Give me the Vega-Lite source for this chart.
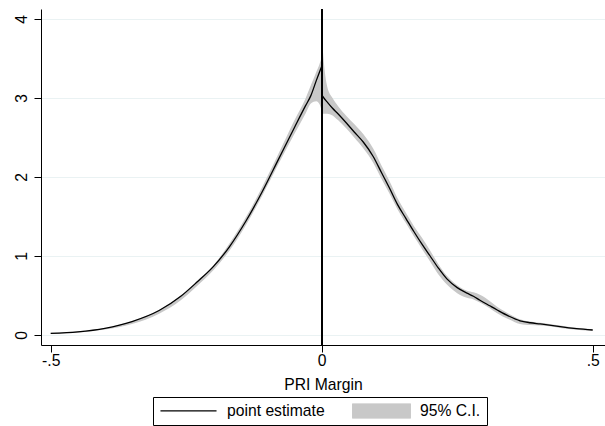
{
  "$schema": "https://vega.github.io/schema/vega-lite/v6.json",
  "width": 564,
  "height": 336,
  "autosize": {"type": "none"},
  "padding": {"left": 41, "top": 9, "right": 0, "bottom": 81},
  "background": "white",
  "config": {
    "font": "Liberation Sans",
    "view": {"stroke": null},
    "axis": {
      "domainColor": "black",
      "tickColor": "black",
      "labelColor": "black",
      "titleColor": "black",
      "labelFontSize": 15.7,
      "titleFontSize": 15.7,
      "titleFontWeight": "normal",
      "tickSize": 7,
      "domainWidth": 1,
      "tickWidth": 1
    }
  },
  "data": {
    "values": [
      {"side": "L", "x": -0.5, "est": 0.02, "lo": 0.012, "hi": 0.028},
      {"side": "L", "x": -0.45, "est": 0.04, "lo": 0.03, "hi": 0.048},
      {"side": "L", "x": -0.4, "est": 0.085, "lo": 0.07, "hi": 0.09},
      {"side": "L", "x": -0.35, "est": 0.17, "lo": 0.14, "hi": 0.175},
      {"side": "L", "x": -0.3, "est": 0.31, "lo": 0.27, "hi": 0.315},
      {"side": "L", "x": -0.26, "est": 0.49, "lo": 0.44, "hi": 0.5},
      {"side": "L", "x": -0.23, "est": 0.67, "lo": 0.62, "hi": 0.685},
      {"side": "L", "x": -0.2, "est": 0.865, "lo": 0.82, "hi": 0.88},
      {"side": "L", "x": -0.17, "est": 1.12, "lo": 1.07, "hi": 1.16},
      {"side": "L", "x": -0.14, "est": 1.44, "lo": 1.39, "hi": 1.49},
      {"side": "L", "x": -0.11, "est": 1.81, "lo": 1.76, "hi": 1.87},
      {"side": "L", "x": -0.08, "est": 2.22, "lo": 2.16, "hi": 2.29},
      {"side": "L", "x": -0.05, "est": 2.63, "lo": 2.55, "hi": 2.72},
      {"side": "L", "x": -0.03, "est": 2.9, "lo": 2.8, "hi": 2.99},
      {"side": "L", "x": -0.02, "est": 3.03, "lo": 2.93, "hi": 3.16},
      {"side": "L", "x": -0.01, "est": 3.22, "lo": 2.96, "hi": 3.33},
      {"side": "L", "x": -0.004, "est": 3.33, "lo": 2.92, "hi": 3.43},
      {"side": "L", "x": 0.0, "est": 3.4, "lo": 2.84, "hi": 3.52},
      {"side": "R", "x": 0.0, "est": 3.04, "lo": 2.8, "hi": 3.82},
      {"side": "R", "x": 0.004, "est": 3.0, "lo": 2.8, "hi": 3.45},
      {"side": "R", "x": 0.01, "est": 2.95, "lo": 2.8, "hi": 3.15},
      {"side": "R", "x": 0.02, "est": 2.87, "lo": 2.78, "hi": 3.0},
      {"side": "R", "x": 0.03, "est": 2.8, "lo": 2.72, "hi": 2.9},
      {"side": "R", "x": 0.046, "est": 2.68, "lo": 2.61, "hi": 2.77},
      {"side": "R", "x": 0.06, "est": 2.57, "lo": 2.5, "hi": 2.67},
      {"side": "R", "x": 0.077, "est": 2.44, "lo": 2.36, "hi": 2.54},
      {"side": "R", "x": 0.095, "est": 2.26, "lo": 2.18, "hi": 2.36},
      {"side": "R", "x": 0.11, "est": 2.06, "lo": 1.98, "hi": 2.15},
      {"side": "R", "x": 0.125, "est": 1.86, "lo": 1.79, "hi": 1.95},
      {"side": "R", "x": 0.14, "est": 1.65, "lo": 1.59, "hi": 1.73},
      {"side": "R", "x": 0.155, "est": 1.48, "lo": 1.42, "hi": 1.55},
      {"side": "R", "x": 0.17, "est": 1.31, "lo": 1.25, "hi": 1.38},
      {"side": "R", "x": 0.185, "est": 1.15, "lo": 1.09, "hi": 1.23},
      {"side": "R", "x": 0.2, "est": 1.0, "lo": 0.93, "hi": 1.07},
      {"side": "R", "x": 0.215, "est": 0.85, "lo": 0.77, "hi": 0.9},
      {"side": "R", "x": 0.231, "est": 0.71, "lo": 0.64, "hi": 0.75},
      {"side": "R", "x": 0.25, "est": 0.6, "lo": 0.53, "hi": 0.63},
      {"side": "R", "x": 0.268, "est": 0.53, "lo": 0.47, "hi": 0.56},
      {"side": "R", "x": 0.28, "est": 0.49, "lo": 0.45, "hi": 0.54},
      {"side": "R", "x": 0.292, "est": 0.44, "lo": 0.41, "hi": 0.51},
      {"side": "R", "x": 0.31, "est": 0.37, "lo": 0.34, "hi": 0.43},
      {"side": "R", "x": 0.323, "est": 0.32, "lo": 0.28, "hi": 0.36},
      {"side": "R", "x": 0.345, "est": 0.24, "lo": 0.2, "hi": 0.27},
      {"side": "R", "x": 0.366, "est": 0.18, "lo": 0.14, "hi": 0.2},
      {"side": "R", "x": 0.385, "est": 0.155, "lo": 0.125, "hi": 0.17},
      {"side": "R", "x": 0.403, "est": 0.14, "lo": 0.12, "hi": 0.155},
      {"side": "R", "x": 0.42, "est": 0.125, "lo": 0.11, "hi": 0.14},
      {"side": "R", "x": 0.44, "est": 0.105, "lo": 0.09, "hi": 0.12},
      {"side": "R", "x": 0.47, "est": 0.08, "lo": 0.068, "hi": 0.092},
      {"side": "R", "x": 0.5, "est": 0.063, "lo": 0.053, "hi": 0.072}
    ]
  },
  "encoding": {
    "x": {
      "field": "x",
      "type": "quantitative",
      "scale": {"domain": [-0.5179, 0.5227], "nice": false, "zero": false},
      "axis": {
        "title": "PRI Margin",
        "values": [-0.5, 0, 0.5],
        "labelExpr": "datum.value < 0 ? '-.5' : (datum.value > 0 ? '.5' : '0')",
        "grid": false,
        "labelPadding": 1,
        "titlePadding": 10
      }
    }
  },
  "layer": [
    {
      "mark": {"type": "area", "interpolate": "monotone", "opacity": 1},
      "encoding": {
        "y": {
          "field": "lo",
          "type": "quantitative",
          "scale": {"domain": [-0.1266, 4.1266], "nice": false, "zero": false},
          "axis": {
            "title": null,
            "values": [0, 1, 2, 3, 4],
            "format": "d",
            "grid": true,
            "gridColor": "#eaf2f3",
            "gridWidth": 1,
            "labelAngle": -90,
            "labelAlign": "center",
            "labelBaseline": "alphabetic",
            "labelPadding": 8
          }
        },
        "y2": {"field": "hi"},
        "detail": {"field": "side"},
        "color": {
          "datum": "95% C.I.",
          "type": "nominal",
          "scale": {"domain": ["point estimate", "95% C.I."], "range": ["black", "#c8c8c8"]},
          "legend": {
            "title": null,
            "orient": "none",
            "legendX": 112,
            "legendY": 388,
            "direction": "horizontal",
            "strokeColor": "black",
            "fillColor": "white",
            "padding": 6,
            "labelFontSize": 15.7,
            "labelColor": "black",
            "labelOffset": 9,
            "columnPadding": 27,
            "symbolSize": 3340,
            "symbolType": {"expr": "datum.value === 'point estimate' ? 'M-0.97,0H0.97' : 'M-1,-0.26H1V0.26H-1Z'"},
            "symbolStrokeColor": {"expr": "datum.value === 'point estimate' ? 'black' : '#bebebe'"},
            "symbolStrokeWidth": 1.1,
            "clipHeight": 15,
            "labelLimit": 300
          }
        }
      }
    },
    {
      "mark": {"type": "line", "interpolate": "monotone", "strokeWidth": 1.3},
      "encoding": {
        "y": {"field": "est", "type": "quantitative"},
        "detail": {"field": "side"},
        "color": {"datum": "point estimate", "type": "nominal", "legend": null}
      }
    },
    {
      "mark": {"type": "rule", "color": "black", "strokeWidth": 1},
      "encoding": {"x": {"datum": 0}}
    }
  ]
}
